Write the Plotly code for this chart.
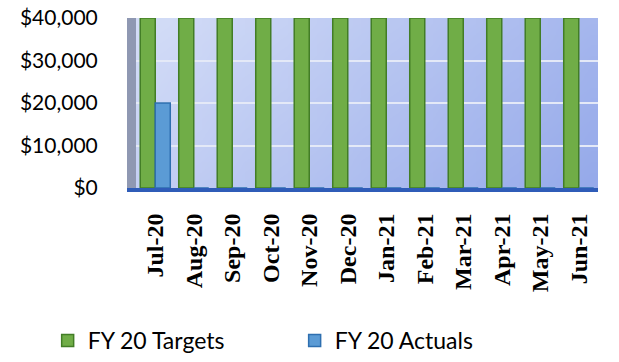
import base64
import struct
import zlib
import plotly.graph_objects as go

months = ["Jul-20", "Aug-20", "Sep-20", "Oct-20", "Nov-20", "Dec-20",
          "Jan-21", "Feb-21", "Mar-21", "Apr-21", "May-21", "Jun-21"]
targets = [40000, 40000, 40000, 40000, 40000, 40000,
           40000, 40000, 40000, 40000, 40000, 40000]
actuals = [20000, 0, 0, 0, 0, 0, 0, 0, 0, 0, 0, 0]
y_ticks = [0, 10000, 20000, 30000, 40000]
y_tick_text = ["$0", "$10,000", "$20,000", "$30,000", "$40,000"]


def gradient_png(w, h, c_tl, c_br):
    rows = b""
    for j in range(h):
        row = b"\x00"
        for i in range(w):
            t = 0.75 * i / (w - 1) + 0.25 * j / (h - 1)
            px = bytes(int(round(a + (b - a) * t)) for a, b in zip(c_tl, c_br))
            row += px
        rows += row
    def chunk(tag, data):
        c = struct.pack(">I", len(data)) + tag + data
        return c + struct.pack(">I", zlib.crc32(tag + data) & 0xffffffff)
    png = b"\x89PNG\r\n\x1a\n"
    png += chunk(b"IHDR", struct.pack(">IIBBBBB", w, h, 8, 2, 0, 0, 0))
    png += chunk(b"IDAT", zlib.compress(rows))
    png += chunk(b"IEND", b"")
    return "data:image/png;base64," + base64.b64encode(png).decode()


bg = gradient_png(32, 16, (212, 221, 247), (150, 170, 234))

fig = go.Figure()
fig.add_trace(go.Bar(
    x=months, y=targets, name="FY 20 Targets", legend="legend",
    marker=dict(color="#70ad47", line=dict(color="#427d26", width=1.5)),
))
fig.add_trace(go.Bar(
    x=months, y=actuals, name="FY 20 Actuals", legend="legend2",
    marker=dict(color="#5b9bd5", line=dict(color="#2e6fb0", width=1.5)),
))

legend_common = dict(
    orientation="h", xanchor="left", xref="container", yref="container",
    y=-0.048, yanchor="bottom", itemwidth=30,
    font=dict(size=23, family="Lato", color="black"),
    bgcolor="rgba(0,0,0,0)",
)

fig.update_layout(
    width=619, height=362,
    margin=dict(l=136, r=21, t=18, b=174),
    paper_bgcolor="white",
    plot_bgcolor="rgba(0,0,0,0)",
    barmode="group",
    bargap=0.22,
    bargroupgap=0.0,
    font=dict(family="Lato", color="black"),
    showlegend=True,
    images=[dict(source=bg, xref="paper", yref="paper", x=0, y=1,
                 sizex=1, sizey=1, xanchor="left", yanchor="top",
                 sizing="stretch", layer="below")],
    legend=dict(x=0.077, **legend_common),
    legend2=dict(x=0.476, **legend_common),
    xaxis=dict(
        tickangle=-90, automargin=False,
        tickfont=dict(family="Liberation Serif", size=24, color="black", weight="bold"),
        showline=True, linecolor="#2f5cb8", linewidth=4,
        ticks="", showgrid=False, ticklabelstandoff=12,
    ),
    yaxis=dict(
        range=[0, 40000], automargin=False,
        tickvals=y_ticks, ticktext=y_tick_text,
        tickfont=dict(size=21, family="Lato", color="black"),
        showgrid=True, gridcolor="#e4e9f7", gridwidth=1.5,
        showline=True, linecolor="#8f98b2", linewidth=9,
        zeroline=False, ticks="", ticklabelstandoff=25,
    ),
)

fig.write_html("out.html")
